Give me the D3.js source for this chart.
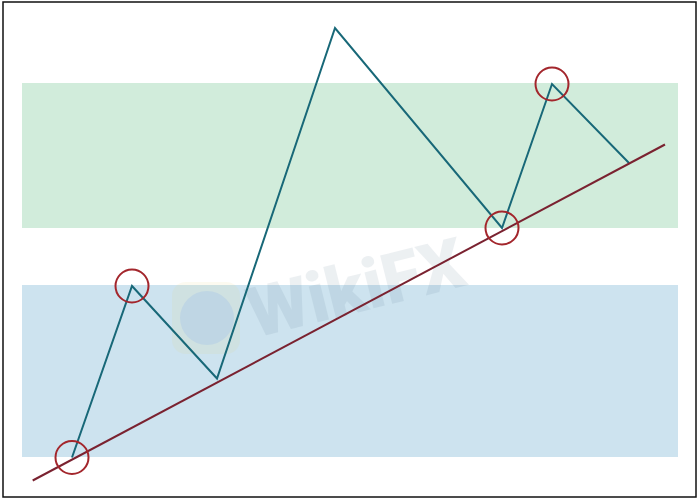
<!DOCTYPE html>
<html><head><meta charset="utf-8">
<script src="https://cdn.jsdelivr.net/npm/d3@7"></script>
<style>html,body{margin:0;padding:0;background:#fff;}svg{display:block;}</style>
</head><body>
<svg id="chart" width="700" height="500"></svg>
<script>
// Data (abstract time 0..70, price 0..100)
const times  = [7.2, 13.2, 21.7, 33.5, 50.2, 55.2, 62.9];
const prices = [8.5, 42.8, 24.3, 94.4, 54.4, 83.2, 67.4];
const circled = [0, 1, 4, 5];
const trendTimes  = [3.27, 66.5];
const trendPrices = [3.9, 71.1];
const bandNames = ["resistance", "support"];
const bandTimes = [[2.2, 67.8], [2.2, 67.8]];
const bandPrices = [[83.4, 54.4], [43.0, 8.6]];
const bandColors = ["#d1ecdb", "#cde3ef"];

const svg = d3.select("#chart");
const x = d3.scaleLinear().domain([0, 70]).range([0, 700]);
const y = d3.scaleLinear().domain([0, 100]).range([500, 0]);

// bands
svg.selectAll("rect.band").data(bandNames).enter().append("rect")
  .attr("class", "band")
  .attr("x", (d, i) => x(bandTimes[i][0]))
  .attr("width", (d, i) => x(bandTimes[i][1]) - x(bandTimes[i][0]))
  .attr("y", (d, i) => y(bandPrices[i][0]))
  .attr("height", (d, i) => y(bandPrices[i][1]) - y(bandPrices[i][0]))
  .attr("fill", (d, i) => bandColors[i]);

// watermark
const wm = svg.append("g").attr("opacity", 0.09);
wm.append("rect").attr("x", 172).attr("y", 282).attr("width", 68).attr("height", 72).attr("rx", 14)
  .attr("fill", "#e8d060");
wm.append("circle").attr("cx", 207).attr("cy", 318).attr("r", 27).attr("fill", "#3d5f7a");
wm.append("text").attr("x", 255).attr("y", 338)
  .attr("transform", "rotate(-14 255 338)")
  .attr("font-family", "Roboto, sans-serif").attr("font-weight", 900)
  .attr("font-size", 70).attr("fill", "#3d5f7a").text("WikiFX");

// zigzag
const pts = times.map((t, i) => [t, prices[i]]);
svg.append("path").datum(pts)
  .attr("d", d3.line().x(d => x(d[0])).y(d => y(d[1])))
  .attr("fill", "none").attr("stroke", "#186878").attr("stroke-width", 2)
  .attr("stroke-linejoin", "miter");

// trend line
svg.append("line")
  .attr("x1", x(trendTimes[0])).attr("y1", y(trendPrices[0]))
  .attr("x2", x(trendTimes[1])).attr("y2", y(trendPrices[1]))
  .attr("stroke", "#7a2230").attr("stroke-width", 2);

// circles
svg.selectAll("circle.mark").data(circled).enter().append("circle")
  .attr("class", "mark")
  .attr("cx", i => x(times[i])).attr("cy", i => y(prices[i]))
  .attr("r", 16.5).attr("fill", "none")
  .attr("stroke", "#a3262c").attr("stroke-width", 2);

// frame
svg.append("rect").attr("x", 3).attr("y", 2).attr("width", 693).attr("height", 495)
  .attr("fill", "none").attr("stroke", "#111").attr("stroke-width", 1.5);
</script>
</body></html>
